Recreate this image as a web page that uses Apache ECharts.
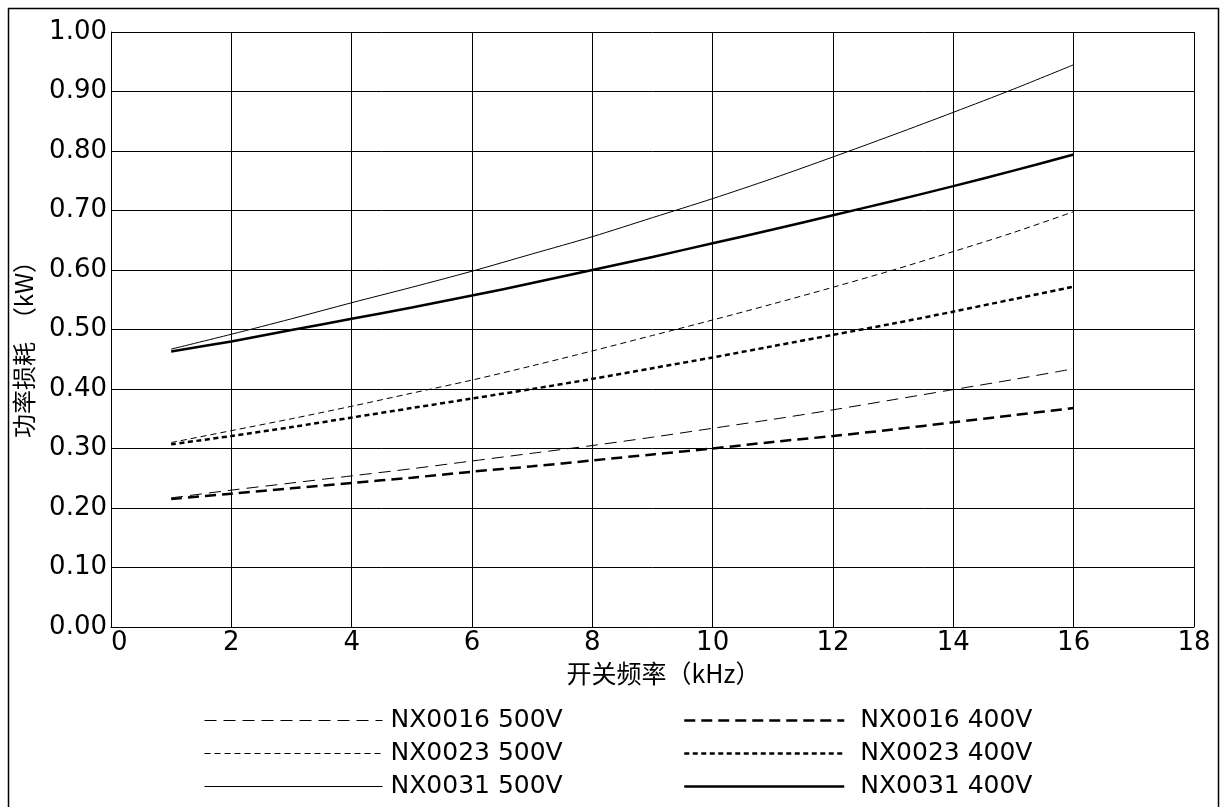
<!DOCTYPE html>
<html>
<head>
<meta charset="utf-8">
<script src="https://cdn.jsdelivr.net/npm/echarts@6/dist/echarts.min.js"></script>
<style>
html,body{margin:0;padding:0;background:#fff;}
#chart{width:1220px;height:807px;}
</style>
</head>
<body>
<div id="chart"></div>
<script>
// Switching frequency (kHz)
var freqs = [1, 2, 3, 4, 5, 6, 7, 8, 9, 10, 11, 12, 13, 14, 15, 16];
// Power loss (kW)
var nx0016_500 = [0.217, 0.230, 0.242, 0.254, 0.266, 0.279, 0.292, 0.305, 0.319, 0.334, 0.349, 0.365, 0.382, 0.399, 0.416, 0.434];
var nx0023_500 = [0.310, 0.330, 0.350, 0.371, 0.393, 0.415, 0.439, 0.464, 0.490, 0.516, 0.543, 0.571, 0.600, 0.631, 0.663, 0.698];
var nx0031_500 = [0.467, 0.492, 0.518, 0.545, 0.571, 0.598, 0.627, 0.656, 0.688, 0.720, 0.754, 0.790, 0.827, 0.865, 0.904, 0.945];
var nx0016_400 = [0.215, 0.224, 0.233, 0.242, 0.251, 0.261, 0.270, 0.280, 0.290, 0.300, 0.311, 0.321, 0.332, 0.344, 0.356, 0.368];
var nx0023_400 = [0.307, 0.321, 0.336, 0.352, 0.368, 0.384, 0.400, 0.417, 0.435, 0.453, 0.472, 0.491, 0.510, 0.530, 0.551, 0.572];
var nx0031_400 = [0.463, 0.480, 0.499, 0.518, 0.537, 0.557, 0.578, 0.600, 0.622, 0.645, 0.668, 0.692, 0.716, 0.741, 0.767, 0.794];

var names = ['NX0016 500V', 'NX0023 500V', 'NX0031 500V', 'NX0016 400V', 'NX0023 400V', 'NX0031 400V'];
var xName = '开关频率（kHz）';
var yName = '功率损耗  （kW）';

function pairs(arr) {
  return freqs.map(function (f, i) { return [f, arr[i]]; });
}

var FONT = 'DejaVu Sans';
var CJK = '"Noto Sans CJK SC"';

function mk(name, arr, width, dash) {
  return {
    name: name,
    type: 'line',
    data: pairs(arr),
    smooth: 0.3,
    symbol: 'none',
    showSymbol: false,
    silent: true,
    animation: false,
    color: '#000',
    itemStyle: { color: '#000' },
    lineStyle: { color: '#000', width: width, type: dash }
  };
}

var legendCommon = {
  orient: 'vertical',
  top: 708,
  padding: 0,
  itemHeight: 24,
  itemGap: 8,
  selectedMode: false,
  itemStyle: { opacity: 0 },
  lineStyle: { width: 'inherit', type: 'inherit', color: 'inherit' }
};

var chart = echarts.init(document.getElementById('chart'), null, { renderer: 'canvas' });
chart.setOption({
  animation: false,
  backgroundColor: '#fff',
  color: ['#000'],
  graphic: [{
    type: 'rect',
    left: 6, top: 6,
    shape: { width: 1210, height: 820 },
    style: { fill: 'none', stroke: '#000', lineWidth: 1.5 },
    silent: true
  }],
  grid: { left: 111, right: 26, top: 32, bottom: 180, containLabel: false, outerBoundsMode: 'none' },
  xAxis: {
    type: 'value',
    min: 0, max: 18, interval: 2,
    name: xName,
    nameLocation: 'middle',
    nameGap: 33,
    nameTextStyle: { fontFamily: CJK, fontSize: 25, color: '#000', padding: [0, 0, 0, 22] },
    axisLine: { show: true, lineStyle: { color: '#000', width: 1 } },
    axisTick: { show: false },
    axisLabel: { fontFamily: FONT, fontSize: 26, color: '#000', margin: 3, alignMinLabel: 'left' },
    splitLine: { show: true, lineStyle: { color: '#000', width: 1 } }
  },
  yAxis: {
    type: 'value',
    min: 0, max: 1, interval: 0.1,
    name: yName,
    nameLocation: 'middle',
    nameGap: 75,
    nameRotate: 90,
    nameTextStyle: { fontFamily: CJK, fontSize: 24, color: '#000', padding: [0, 28, 0, 0] },
    axisLine: { show: true, lineStyle: { color: '#000', width: 1 } },
    axisTick: { show: false },
    axisLabel: {
      fontFamily: FONT, fontSize: 26, color: '#000', margin: 4,
      padding: [0, 0, 7, 0],
      formatter: function (v) { return v.toFixed(2); }
    },
    splitLine: { show: true, lineStyle: { color: '#000', width: 1 } }
  },
  legend: [
    Object.assign({}, legendCommon, {
      data: names.slice(0, 3),
      left: 204,
      itemWidth: 178,
      textStyle: { fontFamily: FONT, fontSize: 25, color: '#000', padding: [0, 0, 0, 3] }
    }),
    Object.assign({}, legendCommon, {
      data: names.slice(3, 6),
      left: 683,
      itemWidth: 160,
      textStyle: { fontFamily: FONT, fontSize: 25, color: '#000', padding: [0, 0, 0, 11] }
    })
  ],
  series: [
    mk(names[0], nx0016_500, 1, [12, 7]),
    mk(names[1], nx0023_500, 1, [6, 4]),
    mk(names[2], nx0031_500, 1, 'solid'),
    mk(names[3], nx0016_400, 2.5, [11, 6]),
    mk(names[4], nx0023_400, 2.5, [5, 3.5]),
    mk(names[5], nx0031_400, 2.5, 'solid')
  ]
});
</script>
</body>
</html>
